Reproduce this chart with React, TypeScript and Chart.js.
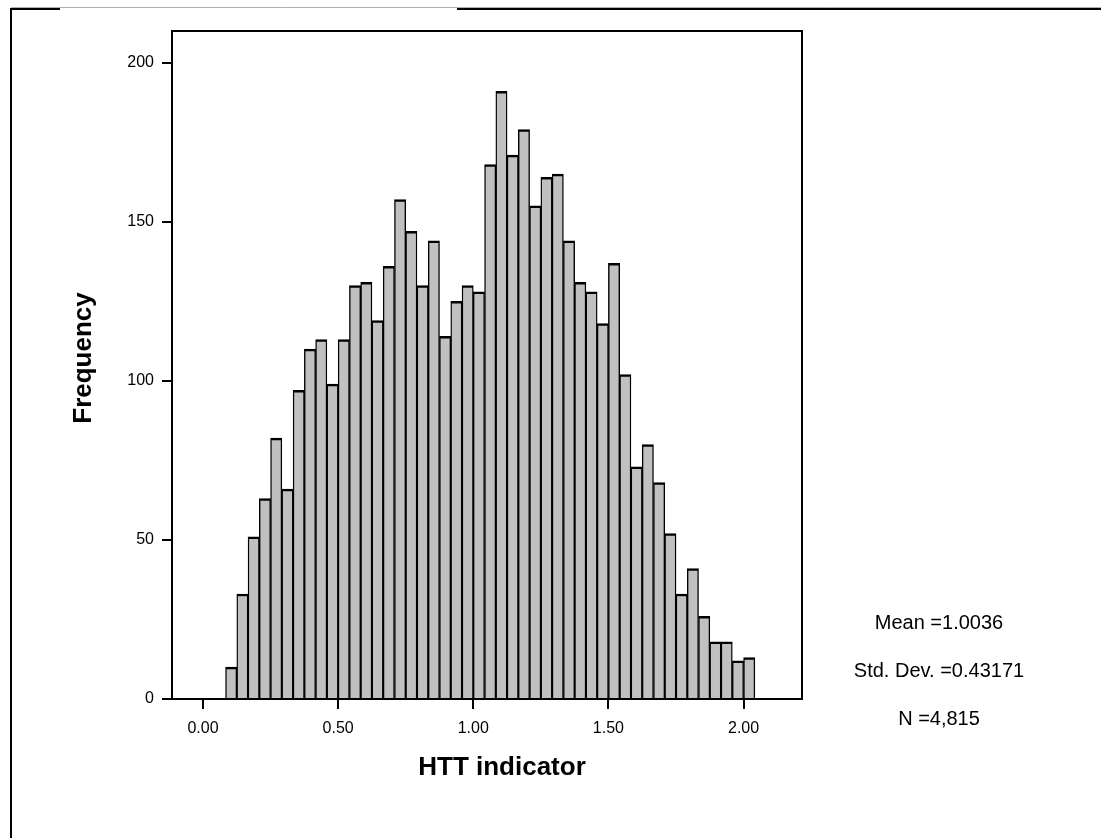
import React, { useEffect, useRef } from 'react';
import { Chart, registerables } from 'chart.js';

Chart.register(...registerables);

// Bin centres of the histogram (HTT indicator)
const binCenters = [
  0.1042, 0.1458, 0.1875, 0.2292, 0.2708, 0.3125, 0.3542, 0.3958, 0.4375, 0.4792,
  0.5208, 0.5625, 0.6042, 0.6458, 0.6875, 0.7292, 0.7708, 0.8125, 0.8542, 0.8958,
  0.9375, 0.9792, 1.0208, 1.0625, 1.1042, 1.1458, 1.1875, 1.2292, 1.2708, 1.3125,
  1.3542, 1.3958, 1.4375, 1.4792, 1.5208, 1.5625, 1.6042, 1.6458, 1.6875, 1.7292,
  1.7708, 1.8125, 1.8542, 1.8958, 1.9375, 1.9792, 2.0208,
];

// Frequency per bin
const frequencies = [
  10, 33, 51, 63, 82, 66, 97, 110, 113, 99,
  113, 130, 131, 119, 136, 157, 147, 130, 144, 114,
  125, 130, 128, 168, 191, 171, 179, 155, 164, 165,
  144, 131, 128, 118, 137, 102, 73, 80, 68, 52,
  33, 41, 26, 18, 18, 12, 13,
];

const xTickValues = [0, 0.5, 1, 1.5, 2];
const yTickValues = [0, 50, 100, 150, 200];
const xAxisTitle = 'HTT indicator';
const yAxisTitle = 'Frequency';
const statsLines = ['Mean =1.0036', 'Std. Dev. =0.43171', 'N =4,815'];

const FONT = '"Liberation Sans", Arial, Helvetica, sans-serif';

const decorPlugin = {
  id: 'decor',
  beforeDraw(chart: any) {
    const ctx = chart.ctx;
    ctx.save();
    ctx.fillStyle = '#ffffff';
    ctx.fillRect(0, 0, chart.width, chart.height);
    // outer frame
    ctx.strokeStyle = '#b0b0b0';
    ctx.lineWidth = 1;
    ctx.beginPath();
    ctx.moveTo(11, 7.5);
    ctx.lineTo(chart.width, 7.5);
    ctx.stroke();
    ctx.strokeStyle = '#000000';
    ctx.lineWidth = 2;
    ctx.beginPath();
    ctx.moveTo(10, 9);
    ctx.lineTo(60, 9);
    ctx.moveTo(457, 9);
    ctx.lineTo(chart.width, 9);
    ctx.moveTo(11, 8);
    ctx.lineTo(11, chart.height);
    ctx.stroke();
    ctx.restore();
  },
  afterDraw(chart: any) {
    const ctx = chart.ctx;
    const a = chart.chartArea;
    ctx.save();
    ctx.strokeStyle = '#000000';
    ctx.lineWidth = 2;
    ctx.strokeRect(a.left, a.top, a.right - a.left, a.bottom - a.top);

    ctx.fillStyle = '#000000';
    ctx.font = `bold 26px ${FONT}`;
    ctx.textAlign = 'center';
    ctx.textBaseline = 'alphabetic';
    ctx.fillText(xAxisTitle, 502, 775);

    ctx.save();
    ctx.translate(91, 358);
    ctx.rotate(-Math.PI / 2);
    ctx.fillText(yAxisTitle, 0, 0);
    ctx.restore();

    ctx.font = `20px ${FONT}`;
    const baselines = [629, 677, 725];
    statsLines.forEach((t, i) => ctx.fillText(t, 939, baselines[i]));
    ctx.restore();
  },
};

export default function App() {
  const ref = useRef<HTMLCanvasElement | null>(null);

  useEffect(() => {
    if (!ref.current) return;
    const chart = new Chart(ref.current, {
      type: 'bar',
      data: {
        datasets: [
          {
            data: binCenters.map((x, i) => ({ x, y: frequencies[i] })),
            backgroundColor: '#c0c0c0',
            borderColor: '#000000',
            borderWidth: { top: 2.5, left: 1.4, right: 1.4, bottom: 0 },
            borderSkipped: false,
            barPercentage: 1,
            categoryPercentage: 1,
            grouped: false,
          } as any,
        ],
      },
      options: {
        animation: false,
        responsive: false,
        devicePixelRatio: 1,
        layout: { padding: { left: 0, top: 31, right: 299, bottom: 0 } },
        plugins: { legend: { display: false }, tooltip: { enabled: false } },
        scales: {
          x: {
            type: 'linear',
            min: -0.1147,
            max: 2.2161,
            offset: false,
            afterFit: (s: any) => { s.height = 139; },
            afterBuildTicks: (s: any) => { s.ticks = xTickValues.map((v) => ({ value: v })); },
            grid: { display: true, offset: false, drawOnChartArea: false, drawTicks: true, tickLength: 10, color: '#000000', lineWidth: 2 },
            border: { display: false },
            ticks: {
              color: '#000000',
              font: { family: FONT, size: 16 },
              padding: 10,
              maxRotation: 0,
              autoSkip: false,
              callback: (v: any) => Number(v).toFixed(2),
            },
          },
          y: {
            type: 'linear',
            min: 0,
            max: 210,
            afterFit: (s: any) => { s.width = 172; },
            afterBuildTicks: (s: any) => { s.ticks = yTickValues.map((v) => ({ value: v })); },
            grid: { display: true, drawOnChartArea: false, drawTicks: true, tickLength: 10, color: '#000000', lineWidth: 2 },
            border: { display: false },
            ticks: {
              color: '#000000',
              font: { family: FONT, size: 16 },
              padding: 8,
              autoSkip: false,
              callback: (v: any) => String(v),
            },
          },
        },
      },
      plugins: [decorPlugin],
    });
    return () => chart.destroy();
  }, []);

  return (
    <div style={{ position: 'fixed', left: 0, top: 0, width: 1101, height: 838, background: '#fff' }}>
      <canvas ref={ref} width={1101} height={838} style={{ display: 'block', width: 1101, height: 838 }} />
    </div>
  );
}
